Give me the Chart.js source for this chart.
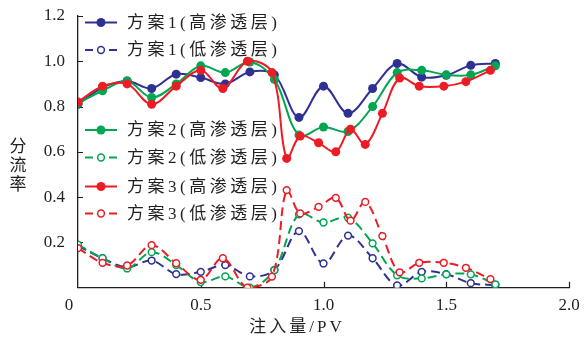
<!DOCTYPE html>
<html>
<head>
<meta charset="utf-8">
<script src="https://cdn.jsdelivr.net/npm/chart.js@4.4.0/dist/chart.umd.min.js"></script>
<style>
html, body { margin: 0; padding: 0; background: #fff; }
#wrap { width: 584px; height: 342px; }
</style>
</head>
<body>
<div id="wrap"><canvas id="chart" width="584" height="342"></canvas></div>
<script>
// injection volume (PV) for schemes 1 and 2, and for scheme 3
var pvA = [0, 0.1, 0.2, 0.3, 0.4, 0.5, 0.6, 0.7, 0.8, 0.9, 1.0, 1.1, 1.2, 1.3, 1.4, 1.5, 1.6, 1.7];
var pvB = [0, 0.1, 0.2, 0.3, 0.4, 0.5, 0.59, 0.69, 0.79, 0.85, 0.905, 0.98, 1.05, 1.11, 1.17, 1.24, 1.31, 1.39, 1.49, 1.58, 1.68];

// split ratio, high / low permeability layer
var hi1 = [0.81, 0.884, 0.913, 0.88, 0.943, 0.928, 0.90, 0.953, 0.94, 0.752, 0.89, 0.77, 0.88, 0.99, 0.93, 0.938, 0.982, 0.99];
var lo1 = [0.185, 0.13, 0.09, 0.12, 0.06, 0.07, 0.10, 0.05, 0.078, 0.25, 0.107, 0.23, 0.13, 0.01, 0.07, 0.06, 0.02, 0.012];
var hi2 = [0.815, 0.87, 0.913, 0.84, 0.90, 0.98, 0.95, 0.997, 0.92, 0.674, 0.71, 0.69, 0.80, 0.95, 0.96, 0.94, 0.94, 0.98];
var lo2 = [0.19, 0.13, 0.085, 0.157, 0.10, 0.025, 0.05, 0.0, 0.078, 0.324, 0.288, 0.309, 0.196, 0.055, 0.041, 0.059, 0.059, 0.015];
var hi3 = [0.82, 0.89, 0.90, 0.81, 0.89, 0.96, 0.88, 1.0, 0.95, 0.571, 0.67, 0.64, 0.60, 0.70, 0.633, 0.77, 0.926, 0.89, 0.89, 0.91, 0.96];
var lo3 = [0.175, 0.11, 0.098, 0.188, 0.108, 0.035, 0.13, 0.0, 0.049, 0.431, 0.328, 0.357, 0.397, 0.296, 0.379, 0.228, 0.068, 0.11, 0.11, 0.088, 0.038];

var xTicks = [0, 0.5, 1.0, 1.5, 2.0];
var yTicks = [0.2, 0.4, 0.6, 0.8, 1.0, 1.2];
var names = ["方案1(高渗透层)", "方案1(低渗透层)", "方案2(高渗透层)", "方案2(低渗透层)", "方案3(高渗透层)", "方案3(低渗透层)"];

var BLUE = "#2e3192", GREEN = "#00a651", RED = "#ed1c24", INK = "#231f20";
var SERIF = "'Liberation Serif', 'Noto Sans CJK SC', serif";

function pts(xs, ys) {
	return ys.map((y, i) => ({ x: xs[i], y: y }));
}

function series(label, xs, ys, color, dashed) {
	return {
		label: label,
		data: pts(xs, ys),
		borderColor: color,
		backgroundColor: dashed ? "#fff" : color,
		borderWidth: 2,
		borderDash: dashed ? [9, 5] : [],
		pointRadius: dashed ? 3.4 : 4.5,
		pointBorderWidth: dashed ? 1.5 : 0,
		pointBackgroundColor: dashed ? "#fff" : color,
		pointBorderColor: color,
		tension: 0.35,
	};
}

// drawn in reverse: first entry ends up on top
var datasets = [
	series(names[4], pvB, hi3, RED, false),
	series(names[5], pvB, lo3, RED, true),
	series(names[2], pvA, hi2, GREEN, false),
	series(names[3], pvA, lo2, GREEN, true),
	series(names[0], pvA, hi1, BLUE, false),
	series(names[1], pvA, lo1, BLUE, true),
];

var keys = [
	{ y: 22.5, color: BLUE, dashed: false, text: names[0] },
	{ y: 50, color: BLUE, dashed: true, text: names[1] },
	{ y: 130, color: GREEN, dashed: false, text: names[2] },
	{ y: 157.5, color: GREEN, dashed: true, text: names[3] },
	{ y: 186.5, color: RED, dashed: false, text: names[4] },
	{ y: 213.5, color: RED, dashed: true, text: names[5] },
];

function drawKey(ctx, k) {
	var x = 85;
	ctx.save();
	ctx.strokeStyle = k.color;
	ctx.lineWidth = 2;
	ctx.setLineDash(k.dashed ? [8, 16] : []);
	ctx.beginPath();
	ctx.moveTo(x, k.y);
	ctx.lineTo(x + 32, k.y);
	ctx.stroke();
	ctx.setLineDash([]);
	ctx.beginPath();
	ctx.arc(x + 16, k.y, k.dashed ? 3.4 : 4.5, 0, Math.PI * 2);
	if (k.dashed) {
		ctx.fillStyle = "#fff";
		ctx.fill();
		ctx.lineWidth = 1.5;
		ctx.stroke();
	} else {
		ctx.fillStyle = k.color;
		ctx.fill();
	}
	ctx.fillStyle = INK;
	ctx.font = "17px " + SERIF;
	ctx.letterSpacing = "3.5px";
	ctx.textBaseline = "middle";
	ctx.textAlign = "left";
	ctx.fillText(k.text, x + 42, k.y + 1);
	ctx.restore();
}

var extras = {
	id: "extras",
	beforeDatasetsDraw(chart) {
		var ctx = chart.ctx, xs = chart.scales.x, ys = chart.scales.y;
		ctx.save();
		ctx.strokeStyle = INK;
		ctx.lineWidth = 1.2;
		ctx.beginPath();
		yTicks.forEach((v) => {
			var py = Math.round(ys.getPixelForValue(v)) + 0.5;
			ctx.moveTo(xs.left, py);
			ctx.lineTo(xs.left + 5, py);
		});
		xTicks.slice(1).forEach((v) => {
			var px = Math.round(xs.getPixelForValue(v)) + 0.5;
			ctx.moveTo(px, ys.bottom);
			ctx.lineTo(px, ys.bottom - 6);
		});
		ctx.stroke();
		ctx.restore();
	},
	afterDraw(chart) {
		var ctx = chart.ctx, xs = chart.scales.x;
		keys.forEach((k) => drawKey(ctx, k));
		ctx.save();
		ctx.fillStyle = INK;
		ctx.font = "17px " + SERIF;
		ctx.textAlign = "center";
		ctx.textBaseline = "middle";
		// origin label sits a little left of the axis in the original
		ctx.fillText("0", xs.getPixelForValue(0) - 9, 306);
		["分", "流", "率"].forEach((ch, i) => ctx.fillText(ch, 18, 148 + i * 19));
		ctx.letterSpacing = "3px";
		ctx.fillText("注入量/PV", 297, 328);
		ctx.restore();
	},
};

new Chart(document.getElementById("chart").getContext("2d"), {
	type: "line",
	data: { datasets: datasets },
	options: {
		responsive: false,
		animation: false,
		devicePixelRatio: 1,
		layout: { padding: { top: 16, right: 15, bottom: 0, left: 0 } },
		plugins: { legend: { display: false }, tooltip: { enabled: false } },
		scales: {
			x: {
				type: "linear",
				min: 0,
				max: 2,
				afterBuildTicks: (s) => { s.ticks = xTicks.map((v) => ({ value: v })); },
				afterFit: (s) => { s.height = 54.3; },
				grid: { display: false },
				border: { display: true, color: INK, width: 1.3 },
				ticks: {
					color: INK,
					padding: 0,
					maxRotation: 0,
					font: { family: SERIF, size: 17 },
					callback: (v) => (v === 0 ? "" : v.toFixed(1)),
				},
			},
			y: {
				min: 0,
				max: 1.2,
				afterBuildTicks: (s) => { s.ticks = yTicks.map((v) => ({ value: v })); },
				afterFit: (s) => { s.width = 78; },
				grid: { display: false },
				border: { display: true, color: INK, width: 1.3 },
				ticks: {
					color: INK,
					padding: 5,
					font: { family: SERIF, size: 17 },
					callback: (v) => v.toFixed(1),
				},
			},
		},
	},
	plugins: [extras],
});
</script>
</body>
</html>
